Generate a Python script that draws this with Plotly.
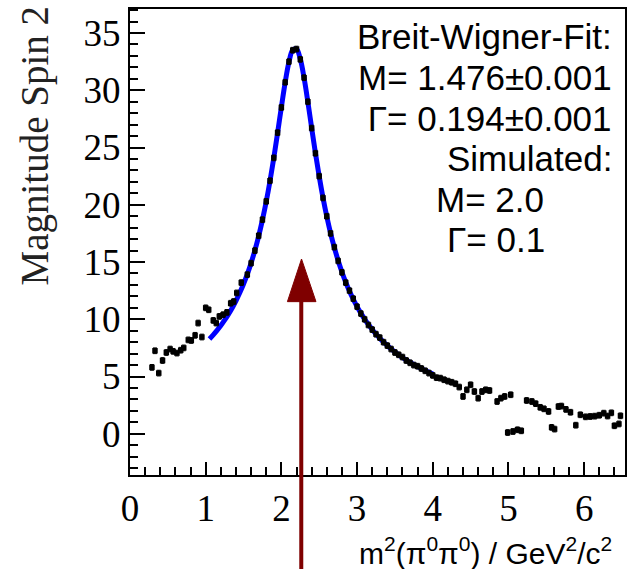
import plotly.graph_objects as go

# ---- data ----
data_x = [0.29, 0.33, 0.38, 0.43, 0.48, 0.53, 0.57, 0.62, 0.67, 0.71, 0.77, 0.81, 0.86, 0.90, 0.95,
          1.00, 1.04, 1.10, 1.14, 1.18, 1.23, 1.28, 1.33, 1.37, 1.41, 1.47,
          1.55, 1.60, 1.65, 1.70, 1.75, 1.80, 1.85, 1.90, 1.95, 2.00, 2.05, 2.10, 2.15, 2.20,
          2.25, 2.30, 2.35, 2.40, 2.45, 2.50, 2.55, 2.60, 2.65, 2.70, 2.75, 2.80, 2.85, 2.90,
          2.95, 3.00, 3.05, 3.10, 3.15, 3.20, 3.25, 3.30, 3.35, 3.40, 3.45, 3.50, 3.55, 3.60,
          3.65, 3.70, 3.75, 3.80, 3.85, 3.90, 3.95, 4.00,
          4.05, 4.10, 4.15, 4.20, 4.25, 4.30, 4.35, 4.40, 4.45, 4.50, 4.55, 4.60, 4.65, 4.70,
          4.75, 4.85, 4.90, 4.95, 5.03, 4.99, 5.06, 5.12, 5.17, 5.24, 5.31, 5.36, 5.42, 5.47,
          5.53, 5.57, 5.61, 5.66, 5.70, 5.76, 5.82, 5.89, 5.95, 6.02, 6.08, 6.14, 6.20, 6.26,
          6.31, 6.36, 6.40, 6.46, 6.48]
data_y = [5.8, 7.25, 5.3, 6.4, 7.1, 7.4, 7.2, 7.05, 7.3, 7.5, 8.2, 8.15, 8.6, 9.67, 8.45,
          11.0, 10.83, 9.9, 9.67, 10.25, 10.4, 10.6, 11.4, 11.55, 12.3, 13.2,
          13.9, 14.9, 16.0, 17.3, 18.7, 20.3, 22.1, 24.1, 26.3, 28.5, 30.7, 32.5, 33.5, 33.6,
          32.7, 31.1, 29.0, 26.7, 24.5, 22.5, 20.6, 19.0, 17.5, 16.3, 15.1, 14.1, 13.2, 12.5,
          11.8, 11.1, 10.5, 10.0, 9.5, 9.1, 8.7, 8.4, 8.0, 7.7, 7.4, 7.1, 6.9, 6.7,
          6.4, 6.2, 6.0, 5.9, 5.7, 5.5, 5.3, 5.1,
          4.90, 4.86, 4.72, 4.60, 4.50, 4.37, 4.08, 3.26, 3.84, 4.28, 3.69, 3.11, 3.69, 3.84,
          3.78, 2.82, 3.11, 3.26, 3.41, 0.11, 0.20, 0.35, 0.26, 2.91, 2.82, 2.63, 2.31, 2.18,
          1.95, 0.56, 0.41, 2.38, 2.42, 2.13, 1.88, 0.75, 1.66, 1.48, 1.51, 1.54, 1.62, 1.80,
          1.55, 1.83, 0.70, 0.86, 1.57]

fit_x = [1.05, 1.10, 1.15, 1.20, 1.25, 1.30, 1.35, 1.40, 1.45, 1.50, 1.55, 1.60, 1.65, 1.70,
         1.75, 1.80, 1.85, 1.90, 1.95, 2.00, 2.05, 2.10, 2.15, 2.20, 2.25, 2.30, 2.35, 2.40,
         2.45, 2.50, 2.55, 2.60, 2.65, 2.70, 2.75, 2.80, 2.85, 2.90, 2.95, 3.00, 3.05, 3.10,
         3.15, 3.20, 3.25, 3.30, 3.35, 3.40, 3.45, 3.50, 3.55, 3.60, 3.65, 3.70, 3.75, 3.80,
         3.85, 3.90, 3.95, 4.00]
fit_y = [8.28, 8.64, 9.03, 9.45, 9.92, 10.43, 10.99, 11.61, 12.31, 13.08, 13.94, 14.92, 16.02, 17.27,
         18.68, 20.28, 22.09, 24.10, 26.27, 28.53, 30.68, 32.46, 33.52, 33.61, 32.73, 31.08, 28.98, 26.72,
         24.52, 22.47, 20.62, 18.98, 17.53, 16.26, 15.13, 14.13, 13.24, 12.45, 11.75, 11.11, 10.54, 10.02,
         9.54, 9.11, 8.71, 8.35, 8.01, 7.70, 7.41, 7.14, 6.89, 6.66, 6.44, 6.24, 6.05, 5.87,
         5.70, 5.53, 5.38, 5.24]

x_tick_step = 1
y_tick_step = 5

info_lines = ["Breit-Wigner-Fit:", "M= 1.476±0.001", " Γ= 0.194±0.001", "Simulated:", "M= 2.0", "Γ= 0.1"]

fig = go.Figure()
fig.add_trace(go.Scatter(
    x=fit_x, y=fit_y, mode="lines", line=dict(color="#0000ff", width=5, shape="spline"),
    showlegend=False, hoverinfo="skip"))
fig.add_trace(go.Scatter(
    x=data_x, y=data_y, mode="markers",
    marker=dict(symbol="square", size=5.5, color="black"),
    error_y=dict(type="constant", value=0.25, width=2, thickness=1, color="black"),
    showlegend=False))

tickfont = dict(family="Liberation Serif", size=37, color="black")
fig.update_xaxes(range=[0, 6.54], tickmode="linear", tick0=0, dtick=x_tick_step,
                 ticks="inside", ticklen=13, tickwidth=1.5, tickcolor="black",
                 minor=dict(tickmode="linear", tick0=0, dtick=0.2, ticks="inside", ticklen=8,
                            tickwidth=1.5, tickcolor="black", showgrid=False),
                 showline=True, linecolor="black", linewidth=2, mirror=True,
                 showgrid=False, zeroline=False, tickfont=tickfont)
fig.update_yaxes(range=[-3.6, 37.1], tickmode="linear", tick0=0, dtick=y_tick_step,
                 ticks="inside", ticklen=15, tickwidth=1.5, tickcolor="black",
                 minor=dict(tickmode="linear", tick0=0, dtick=1, ticks="inside", ticklen=8,
                            tickwidth=1.5, tickcolor="black", showgrid=False),
                 showline=True, linecolor="black", linewidth=2, mirror=True,
                 showgrid=False, zeroline=False, tickfont=tickfont)

sans = dict(family="Liberation Sans", size=35, color="black")
pos = [(0.978, 0.940, "right"), (0.978, 0.852, "right"), (0.978, 0.766, "right"),
       (0.978, 0.680, "right"), (0.6137, 0.592, "left"), (0.6358, 0.506, "left")]
for (px, py, anc), txt in zip(pos, info_lines):
    fig.add_annotation(x=px, y=py, xref="paper", yref="paper", text=txt, showarrow=False,
                       xanchor=anc, yanchor="middle", font=sans)

fig.add_annotation(x=-0.191, y=0.708, xref="paper", yref="paper", text="Magnitude Spin 2",
                   textangle=-90, showarrow=False, xanchor="center", yanchor="middle",
                   font=dict(family="Liberation Serif", size=39, color="#222"))
fig.add_annotation(x=0.978, y=-0.163, xref="paper", yref="paper",
                   text="m<sup>2</sup>(π<sup>0</sup>π<sup>0</sup>) / GeV<sup>2</sup>/c<sup>2</sup>",
                   showarrow=False, xanchor="right", yanchor="middle",
                   font=dict(family="Liberation Sans", size=30, color="black"))

# red arrow
arrow_col = "#7f0000"
fig.add_shape(type="line", xref="paper", yref="paper", x0=0.346, x1=0.346, y0=-0.21, y1=0.375,
              line=dict(color=arrow_col, width=4), layer="above")
fig.add_shape(type="path", xref="paper", yref="paper",
              path="M 0.318 0.372 L 0.3757 0.372 L 0.3465 0.4635 Z",
              fillcolor=arrow_col, line=dict(color=arrow_col, width=1), layer="above")

fig.update_layout(width=633, height=569, margin=dict(l=130, r=6, t=9, b=94),
                  paper_bgcolor="white", plot_bgcolor="white")
fig.write_html("out.html")
